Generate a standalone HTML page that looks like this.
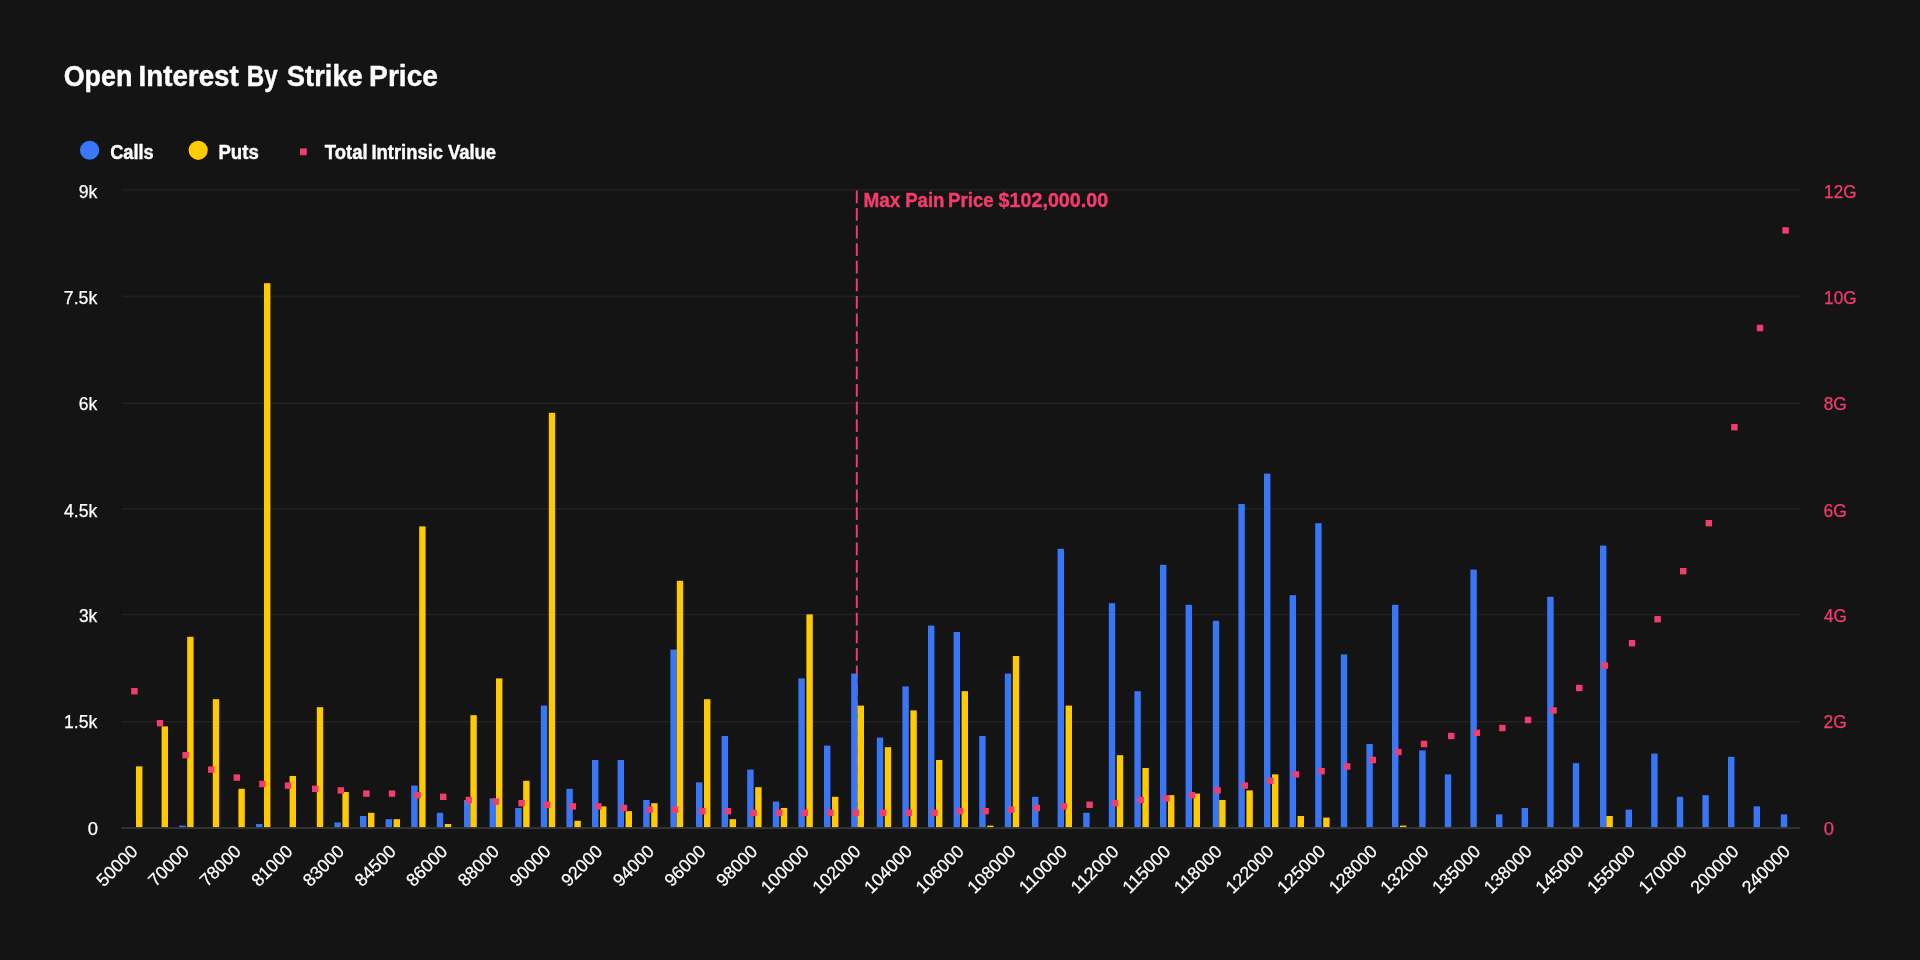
<!DOCTYPE html>
<html><head><meta charset="utf-8"><title>Open Interest By Strike Price</title>
<style>html,body{margin:0;padding:0;background:#141414;width:1920px;height:960px;overflow:hidden}</style></head>
<body>
<svg width="1920" height="960" viewBox="0 0 1920 960" style="display:block;will-change:transform">
<rect width="1920" height="960" fill="#141414"/>
<g transform="scale(1.6)">
<rect x="76" y="118.2" width="1049" height="1" fill="#212121"/>
<rect x="76" y="184.75" width="1049" height="1" fill="#212121"/>
<rect x="76" y="251.5" width="1049" height="1" fill="#212121"/>
<rect x="76" y="317.6" width="1049" height="1" fill="#212121"/>
<rect x="76" y="383.55" width="1049" height="1" fill="#212121"/>
<rect x="76" y="450.6" width="1049" height="1" fill="#212121"/>
<line x1="535.5" y1="119" x2="535.5" y2="517" stroke="#f43c6c" stroke-width="1.2" stroke-dasharray="8 3"/>
<rect x="85" y="479" width="4" height="38" fill="#ffca00"/>
<rect x="101" y="454" width="4" height="63" fill="#ffca00"/>
<rect x="112" y="516" width="4" height="1" fill="#3a77f8"/>
<rect x="117" y="398" width="4" height="119" fill="#ffca00"/>
<rect x="133" y="437" width="4" height="80" fill="#ffca00"/>
<rect x="149" y="493" width="4" height="24" fill="#ffca00"/>
<rect x="160" y="515" width="4" height="2" fill="#3a77f8"/>
<rect x="165" y="177" width="4" height="340" fill="#ffca00"/>
<rect x="181" y="485" width="4" height="32" fill="#ffca00"/>
<rect x="198" y="442" width="4" height="75" fill="#ffca00"/>
<rect x="209" y="514" width="4" height="3" fill="#3a77f8"/>
<rect x="214" y="495" width="4" height="22" fill="#ffca00"/>
<rect x="225" y="510" width="4" height="7" fill="#3a77f8"/>
<rect x="230" y="508" width="4" height="9" fill="#ffca00"/>
<rect x="241" y="512" width="4" height="5" fill="#3a77f8"/>
<rect x="246" y="512" width="4" height="5" fill="#ffca00"/>
<rect x="257" y="491" width="4" height="26" fill="#3a77f8"/>
<rect x="262" y="329" width="4" height="188" fill="#ffca00"/>
<rect x="273" y="508" width="4" height="9" fill="#3a77f8"/>
<rect x="278" y="515" width="4" height="2" fill="#ffca00"/>
<rect x="290" y="500" width="4" height="17" fill="#3a77f8"/>
<rect x="294" y="447" width="4" height="70" fill="#ffca00"/>
<rect x="306" y="499" width="4" height="18" fill="#3a77f8"/>
<rect x="310" y="424" width="4" height="93" fill="#ffca00"/>
<rect x="322" y="505" width="4" height="12" fill="#3a77f8"/>
<rect x="327" y="488" width="4" height="29" fill="#ffca00"/>
<rect x="338" y="441" width="4" height="76" fill="#3a77f8"/>
<rect x="343" y="258" width="4" height="259" fill="#ffca00"/>
<rect x="354" y="493" width="4" height="24" fill="#3a77f8"/>
<rect x="359" y="513" width="4" height="4" fill="#ffca00"/>
<rect x="370" y="475" width="4" height="42" fill="#3a77f8"/>
<rect x="375" y="504" width="4" height="13" fill="#ffca00"/>
<rect x="386" y="475" width="4" height="42" fill="#3a77f8"/>
<rect x="391" y="507" width="4" height="10" fill="#ffca00"/>
<rect x="402" y="500" width="4" height="17" fill="#3a77f8"/>
<rect x="407" y="502" width="4" height="15" fill="#ffca00"/>
<rect x="419" y="406" width="4" height="111" fill="#3a77f8"/>
<rect x="423" y="363" width="4" height="154" fill="#ffca00"/>
<rect x="435" y="489" width="4" height="28" fill="#3a77f8"/>
<rect x="440" y="437" width="4" height="80" fill="#ffca00"/>
<rect x="451" y="460" width="4" height="57" fill="#3a77f8"/>
<rect x="456" y="512" width="4" height="5" fill="#ffca00"/>
<rect x="467" y="481" width="4" height="36" fill="#3a77f8"/>
<rect x="472" y="492" width="4" height="25" fill="#ffca00"/>
<rect x="483" y="501" width="4" height="16" fill="#3a77f8"/>
<rect x="488" y="505" width="4" height="12" fill="#ffca00"/>
<rect x="499" y="424" width="4" height="93" fill="#3a77f8"/>
<rect x="504" y="384" width="4" height="133" fill="#ffca00"/>
<rect x="515" y="466" width="4" height="51" fill="#3a77f8"/>
<rect x="520" y="498" width="4" height="19" fill="#ffca00"/>
<rect x="532" y="421" width="4" height="96" fill="#3a77f8"/>
<rect x="536" y="441" width="4" height="76" fill="#ffca00"/>
<rect x="548" y="461" width="4" height="56" fill="#3a77f8"/>
<rect x="553" y="467" width="4" height="50" fill="#ffca00"/>
<rect x="564" y="429" width="4" height="88" fill="#3a77f8"/>
<rect x="569" y="444" width="4" height="73" fill="#ffca00"/>
<rect x="580" y="391" width="4" height="126" fill="#3a77f8"/>
<rect x="585" y="475" width="4" height="42" fill="#ffca00"/>
<rect x="596" y="395" width="4" height="122" fill="#3a77f8"/>
<rect x="601" y="432" width="4" height="85" fill="#ffca00"/>
<rect x="612" y="460" width="4" height="57" fill="#3a77f8"/>
<rect x="617" y="516" width="4" height="1" fill="#ffca00"/>
<rect x="628" y="421" width="4" height="96" fill="#3a77f8"/>
<rect x="633" y="410" width="4" height="107" fill="#ffca00"/>
<rect x="645" y="498" width="4" height="19" fill="#3a77f8"/>
<rect x="661" y="343" width="4" height="174" fill="#3a77f8"/>
<rect x="666" y="441" width="4" height="76" fill="#ffca00"/>
<rect x="677" y="508" width="4" height="9" fill="#3a77f8"/>
<rect x="693" y="377" width="4" height="140" fill="#3a77f8"/>
<rect x="698" y="472" width="4" height="45" fill="#ffca00"/>
<rect x="709" y="432" width="4" height="85" fill="#3a77f8"/>
<rect x="714" y="480" width="4" height="37" fill="#ffca00"/>
<rect x="725" y="353" width="4" height="164" fill="#3a77f8"/>
<rect x="730" y="497" width="4" height="20" fill="#ffca00"/>
<rect x="741" y="378" width="4" height="139" fill="#3a77f8"/>
<rect x="746" y="496" width="4" height="21" fill="#ffca00"/>
<rect x="758" y="388" width="4" height="129" fill="#3a77f8"/>
<rect x="762" y="500" width="4" height="17" fill="#ffca00"/>
<rect x="774" y="315" width="4" height="202" fill="#3a77f8"/>
<rect x="779" y="494" width="4" height="23" fill="#ffca00"/>
<rect x="790" y="296" width="4" height="221" fill="#3a77f8"/>
<rect x="795" y="484" width="4" height="33" fill="#ffca00"/>
<rect x="806" y="372" width="4" height="145" fill="#3a77f8"/>
<rect x="811" y="510" width="4" height="7" fill="#ffca00"/>
<rect x="822" y="327" width="4" height="190" fill="#3a77f8"/>
<rect x="827" y="511" width="4" height="6" fill="#ffca00"/>
<rect x="838" y="409" width="4" height="108" fill="#3a77f8"/>
<rect x="854" y="465" width="4" height="52" fill="#3a77f8"/>
<rect x="870" y="378" width="4" height="139" fill="#3a77f8"/>
<rect x="875" y="516" width="4" height="1" fill="#ffca00"/>
<rect x="887" y="469" width="4" height="48" fill="#3a77f8"/>
<rect x="903" y="484" width="4" height="33" fill="#3a77f8"/>
<rect x="919" y="356" width="4" height="161" fill="#3a77f8"/>
<rect x="935" y="509" width="4" height="8" fill="#3a77f8"/>
<rect x="951" y="505" width="4" height="12" fill="#3a77f8"/>
<rect x="967" y="373" width="4" height="144" fill="#3a77f8"/>
<rect x="983" y="477" width="4" height="40" fill="#3a77f8"/>
<rect x="1000" y="341" width="4" height="176" fill="#3a77f8"/>
<rect x="1004" y="510" width="4" height="7" fill="#ffca00"/>
<rect x="1016" y="506" width="4" height="11" fill="#3a77f8"/>
<rect x="1032" y="471" width="4" height="46" fill="#3a77f8"/>
<rect x="1048" y="498" width="4" height="19" fill="#3a77f8"/>
<rect x="1064" y="497" width="4" height="20" fill="#3a77f8"/>
<rect x="1080" y="473" width="4" height="44" fill="#3a77f8"/>
<rect x="1096" y="504" width="4" height="13" fill="#3a77f8"/>
<rect x="1113" y="509" width="4" height="8" fill="#3a77f8"/>
<rect x="76" y="517" width="1049" height="1" fill="#3c3c3c"/>
<rect x="82" y="430" width="4" height="4" fill="#f43c6c"/>
<rect x="98" y="450" width="4" height="4" fill="#f43c6c"/>
<rect x="114" y="470" width="4" height="4" fill="#f43c6c"/>
<rect x="130" y="479" width="4" height="4" fill="#f43c6c"/>
<rect x="146" y="484" width="4" height="4" fill="#f43c6c"/>
<rect x="162" y="488" width="4" height="4" fill="#f43c6c"/>
<rect x="178" y="489" width="4" height="4" fill="#f43c6c"/>
<rect x="195" y="491" width="4" height="4" fill="#f43c6c"/>
<rect x="211" y="492" width="4" height="4" fill="#f43c6c"/>
<rect x="227" y="494" width="4" height="4" fill="#f43c6c"/>
<rect x="243" y="494" width="4" height="4" fill="#f43c6c"/>
<rect x="259" y="495" width="4" height="4" fill="#f43c6c"/>
<rect x="275" y="496" width="4" height="4" fill="#f43c6c"/>
<rect x="291" y="498" width="4" height="4" fill="#f43c6c"/>
<rect x="308" y="499" width="4" height="4" fill="#f43c6c"/>
<rect x="324" y="500" width="4" height="4" fill="#f43c6c"/>
<rect x="340" y="501" width="4" height="4" fill="#f43c6c"/>
<rect x="356" y="502" width="4" height="4" fill="#f43c6c"/>
<rect x="372" y="502" width="4" height="4" fill="#f43c6c"/>
<rect x="388" y="503" width="4" height="4" fill="#f43c6c"/>
<rect x="404" y="504" width="4" height="4" fill="#f43c6c"/>
<rect x="420" y="504" width="4" height="4" fill="#f43c6c"/>
<rect x="437" y="505" width="4" height="4" fill="#f43c6c"/>
<rect x="453" y="505" width="4" height="4" fill="#f43c6c"/>
<rect x="469" y="506" width="4" height="4" fill="#f43c6c"/>
<rect x="485" y="506" width="4" height="4" fill="#f43c6c"/>
<rect x="501" y="506" width="4" height="4" fill="#f43c6c"/>
<rect x="517" y="506" width="4" height="4" fill="#f43c6c"/>
<rect x="533" y="506" width="4" height="4" fill="#f43c6c"/>
<rect x="550" y="506" width="4" height="4" fill="#f43c6c"/>
<rect x="566" y="506" width="4" height="4" fill="#f43c6c"/>
<rect x="582" y="506" width="4" height="4" fill="#f43c6c"/>
<rect x="598" y="505" width="4" height="4" fill="#f43c6c"/>
<rect x="614" y="505" width="4" height="4" fill="#f43c6c"/>
<rect x="630" y="504" width="4" height="4" fill="#f43c6c"/>
<rect x="646" y="503" width="4" height="4" fill="#f43c6c"/>
<rect x="663" y="502" width="4" height="4" fill="#f43c6c"/>
<rect x="679" y="501" width="4" height="4" fill="#f43c6c"/>
<rect x="695" y="500" width="4" height="4" fill="#f43c6c"/>
<rect x="711" y="498" width="4" height="4" fill="#f43c6c"/>
<rect x="727" y="497" width="4" height="4" fill="#f43c6c"/>
<rect x="743" y="495" width="4" height="4" fill="#f43c6c"/>
<rect x="759" y="492" width="4" height="4" fill="#f43c6c"/>
<rect x="776" y="489" width="4" height="4" fill="#f43c6c"/>
<rect x="792" y="486" width="4" height="4" fill="#f43c6c"/>
<rect x="808" y="482" width="4" height="4" fill="#f43c6c"/>
<rect x="824" y="480" width="4" height="4" fill="#f43c6c"/>
<rect x="840" y="477" width="4" height="4" fill="#f43c6c"/>
<rect x="856" y="473" width="4" height="4" fill="#f43c6c"/>
<rect x="872" y="468" width="4" height="4" fill="#f43c6c"/>
<rect x="888" y="463" width="4" height="4" fill="#f43c6c"/>
<rect x="905" y="458" width="4" height="4" fill="#f43c6c"/>
<rect x="921" y="456" width="4" height="4" fill="#f43c6c"/>
<rect x="937" y="453" width="4" height="4" fill="#f43c6c"/>
<rect x="953" y="448" width="4" height="4" fill="#f43c6c"/>
<rect x="969" y="442" width="4" height="4" fill="#f43c6c"/>
<rect x="985" y="428" width="4" height="4" fill="#f43c6c"/>
<rect x="1001" y="414" width="4" height="4" fill="#f43c6c"/>
<rect x="1018" y="400" width="4" height="4" fill="#f43c6c"/>
<rect x="1034" y="385" width="4" height="4" fill="#f43c6c"/>
<rect x="1050" y="355" width="4" height="4" fill="#f43c6c"/>
<rect x="1066" y="325" width="4" height="4" fill="#f43c6c"/>
<rect x="1082" y="265" width="4" height="4" fill="#f43c6c"/>
<rect x="1098" y="203" width="4" height="4" fill="#f43c6c"/>
<rect x="1114" y="142" width="4" height="4" fill="#f43c6c"/>
</g>
<text x="63.70" y="85.70" font-family="Liberation Sans, sans-serif" font-size="29.4" font-weight="700" stroke="#ffffff" stroke-width="0.4" fill="#ffffff" textLength="68.77" lengthAdjust="spacingAndGlyphs">Open</text>
<text x="138.44" y="85.70" font-family="Liberation Sans, sans-serif" font-size="29.4" font-weight="700" stroke="#ffffff" stroke-width="0.4" fill="#ffffff" textLength="100.40" lengthAdjust="spacingAndGlyphs">Interest</text>
<text x="246.78" y="85.70" font-family="Liberation Sans, sans-serif" font-size="29.4" font-weight="700" stroke="#ffffff" stroke-width="0.4" fill="#ffffff" textLength="30.95" lengthAdjust="spacingAndGlyphs">By</text>
<text x="286.81" y="85.70" font-family="Liberation Sans, sans-serif" font-size="29.4" font-weight="700" stroke="#ffffff" stroke-width="0.4" fill="#ffffff" textLength="76.02" lengthAdjust="spacingAndGlyphs">Strike</text>
<text x="369.12" y="85.70" font-family="Liberation Sans, sans-serif" font-size="29.4" font-weight="700" stroke="#ffffff" stroke-width="0.4" fill="#ffffff" textLength="68.84" lengthAdjust="spacingAndGlyphs">Price</text>
<circle cx="89.6" cy="150.25" r="9.6" fill="#3a77f8"/>
<text x="110.15" y="158.50" font-family="Liberation Sans, sans-serif" font-size="19.6" font-weight="700" stroke="#ffffff" stroke-width="0.4" fill="#ffffff" textLength="43.60" lengthAdjust="spacingAndGlyphs">Calls</text>
<circle cx="198.2" cy="150.3" r="9.6" fill="#ffca00"/>
<text x="218.46" y="158.50" font-family="Liberation Sans, sans-serif" font-size="19.6" font-weight="700" stroke="#ffffff" stroke-width="0.4" fill="#ffffff" textLength="40.31" lengthAdjust="spacingAndGlyphs">Puts</text>
<rect x="300" y="148.4" width="6.8" height="6.8" fill="#f43c6c"/>
<text x="324.80" y="158.50" font-family="Liberation Sans, sans-serif" font-size="19.6" font-weight="700" stroke="#ffffff" stroke-width="0.4" fill="#ffffff" textLength="42.77" lengthAdjust="spacingAndGlyphs">Total</text>
<text x="371.47" y="158.50" font-family="Liberation Sans, sans-serif" font-size="19.6" font-weight="700" stroke="#ffffff" stroke-width="0.4" fill="#ffffff" textLength="71.57" lengthAdjust="spacingAndGlyphs">Intrinsic</text>
<text x="447.88" y="158.50" font-family="Liberation Sans, sans-serif" font-size="19.6" font-weight="700" stroke="#ffffff" stroke-width="0.4" fill="#ffffff" textLength="48.24" lengthAdjust="spacingAndGlyphs">Value</text>
<text x="78.67" y="198.30" font-family="Liberation Sans, sans-serif" font-size="17.9" stroke="#ffffff" stroke-width="0.25" fill="#ffffff" textLength="18.60" lengthAdjust="spacingAndGlyphs">9k</text>
<text x="63.79" y="304.00" font-family="Liberation Sans, sans-serif" font-size="17.9" stroke="#ffffff" stroke-width="0.25" fill="#ffffff" textLength="33.48" lengthAdjust="spacingAndGlyphs">7.5k</text>
<text x="78.81" y="409.80" font-family="Liberation Sans, sans-serif" font-size="17.9" stroke="#ffffff" stroke-width="0.25" fill="#ffffff" textLength="18.46" lengthAdjust="spacingAndGlyphs">6k</text>
<text x="64.10" y="516.90" font-family="Liberation Sans, sans-serif" font-size="17.9" stroke="#ffffff" stroke-width="0.25" fill="#ffffff" textLength="33.18" lengthAdjust="spacingAndGlyphs">4.5k</text>
<text x="78.94" y="622.40" font-family="Liberation Sans, sans-serif" font-size="17.9" stroke="#ffffff" stroke-width="0.25" fill="#ffffff" textLength="18.34" lengthAdjust="spacingAndGlyphs">3k</text>
<text x="64.06" y="728.00" font-family="Liberation Sans, sans-serif" font-size="17.9" stroke="#ffffff" stroke-width="0.25" fill="#ffffff" textLength="33.21" lengthAdjust="spacingAndGlyphs">1.5k</text>
<text x="87.68" y="834.90" font-family="Liberation Sans, sans-serif" font-size="17.9" stroke="#ffffff" stroke-width="0.25" fill="#ffffff" textLength="10.24" lengthAdjust="spacingAndGlyphs">0</text>
<text x="1824.09" y="198.30" font-family="Liberation Sans, sans-serif" font-size="17.9" stroke="#f43c6c" stroke-width="0.25" fill="#f43c6c" textLength="32.49" lengthAdjust="spacingAndGlyphs">12G</text>
<text x="1824.09" y="304.00" font-family="Liberation Sans, sans-serif" font-size="17.9" stroke="#f43c6c" stroke-width="0.25" fill="#f43c6c" textLength="32.49" lengthAdjust="spacingAndGlyphs">10G</text>
<text x="1823.65" y="409.80" font-family="Liberation Sans, sans-serif" font-size="17.9" stroke="#f43c6c" stroke-width="0.25" fill="#f43c6c" textLength="23.15" lengthAdjust="spacingAndGlyphs">8G</text>
<text x="1823.51" y="516.90" font-family="Liberation Sans, sans-serif" font-size="17.9" stroke="#f43c6c" stroke-width="0.25" fill="#f43c6c" textLength="23.29" lengthAdjust="spacingAndGlyphs">6G</text>
<text x="1824.01" y="622.40" font-family="Liberation Sans, sans-serif" font-size="17.9" stroke="#f43c6c" stroke-width="0.25" fill="#f43c6c" textLength="22.77" lengthAdjust="spacingAndGlyphs">4G</text>
<text x="1823.52" y="728.00" font-family="Liberation Sans, sans-serif" font-size="17.9" stroke="#f43c6c" stroke-width="0.25" fill="#f43c6c" textLength="23.28" lengthAdjust="spacingAndGlyphs">2G</text>
<text x="1823.68" y="834.90" font-family="Liberation Sans, sans-serif" font-size="17.9" stroke="#f43c6c" stroke-width="0.25" fill="#f43c6c" textLength="10.24" lengthAdjust="spacingAndGlyphs">0</text>
<text x="138.71" y="852.60" font-family="Liberation Sans, sans-serif" font-size="17.9" fill="#ffffff" stroke="#ffffff" stroke-width="0.25" text-anchor="end" textLength="49.41" lengthAdjust="spacingAndGlyphs" transform="rotate(-45 138.71 852.60)">50000</text>
<text x="190.35" y="852.60" font-family="Liberation Sans, sans-serif" font-size="17.9" fill="#ffffff" stroke="#ffffff" stroke-width="0.25" text-anchor="end" textLength="49.41" lengthAdjust="spacingAndGlyphs" transform="rotate(-45 190.35 852.60)">70000</text>
<text x="242.00" y="852.60" font-family="Liberation Sans, sans-serif" font-size="17.9" fill="#ffffff" stroke="#ffffff" stroke-width="0.25" text-anchor="end" textLength="49.41" lengthAdjust="spacingAndGlyphs" transform="rotate(-45 242.00 852.60)">78000</text>
<text x="293.64" y="852.60" font-family="Liberation Sans, sans-serif" font-size="17.9" fill="#ffffff" stroke="#ffffff" stroke-width="0.25" text-anchor="end" textLength="49.41" lengthAdjust="spacingAndGlyphs" transform="rotate(-45 293.64 852.60)">81000</text>
<text x="345.28" y="852.60" font-family="Liberation Sans, sans-serif" font-size="17.9" fill="#ffffff" stroke="#ffffff" stroke-width="0.25" text-anchor="end" textLength="49.41" lengthAdjust="spacingAndGlyphs" transform="rotate(-45 345.28 852.60)">83000</text>
<text x="396.93" y="852.60" font-family="Liberation Sans, sans-serif" font-size="17.9" fill="#ffffff" stroke="#ffffff" stroke-width="0.25" text-anchor="end" textLength="49.41" lengthAdjust="spacingAndGlyphs" transform="rotate(-45 396.93 852.60)">84500</text>
<text x="448.57" y="852.60" font-family="Liberation Sans, sans-serif" font-size="17.9" fill="#ffffff" stroke="#ffffff" stroke-width="0.25" text-anchor="end" textLength="49.41" lengthAdjust="spacingAndGlyphs" transform="rotate(-45 448.57 852.60)">86000</text>
<text x="500.21" y="852.60" font-family="Liberation Sans, sans-serif" font-size="17.9" fill="#ffffff" stroke="#ffffff" stroke-width="0.25" text-anchor="end" textLength="49.41" lengthAdjust="spacingAndGlyphs" transform="rotate(-45 500.21 852.60)">88000</text>
<text x="551.86" y="852.60" font-family="Liberation Sans, sans-serif" font-size="17.9" fill="#ffffff" stroke="#ffffff" stroke-width="0.25" text-anchor="end" textLength="49.41" lengthAdjust="spacingAndGlyphs" transform="rotate(-45 551.86 852.60)">90000</text>
<text x="603.50" y="852.60" font-family="Liberation Sans, sans-serif" font-size="17.9" fill="#ffffff" stroke="#ffffff" stroke-width="0.25" text-anchor="end" textLength="49.41" lengthAdjust="spacingAndGlyphs" transform="rotate(-45 603.50 852.60)">92000</text>
<text x="655.14" y="852.60" font-family="Liberation Sans, sans-serif" font-size="17.9" fill="#ffffff" stroke="#ffffff" stroke-width="0.25" text-anchor="end" textLength="49.41" lengthAdjust="spacingAndGlyphs" transform="rotate(-45 655.14 852.60)">94000</text>
<text x="706.78" y="852.60" font-family="Liberation Sans, sans-serif" font-size="17.9" fill="#ffffff" stroke="#ffffff" stroke-width="0.25" text-anchor="end" textLength="49.41" lengthAdjust="spacingAndGlyphs" transform="rotate(-45 706.78 852.60)">96000</text>
<text x="758.43" y="852.60" font-family="Liberation Sans, sans-serif" font-size="17.9" fill="#ffffff" stroke="#ffffff" stroke-width="0.25" text-anchor="end" textLength="49.41" lengthAdjust="spacingAndGlyphs" transform="rotate(-45 758.43 852.60)">98000</text>
<text x="810.07" y="852.60" font-family="Liberation Sans, sans-serif" font-size="17.9" fill="#ffffff" stroke="#ffffff" stroke-width="0.25" text-anchor="end" textLength="59.29" lengthAdjust="spacingAndGlyphs" transform="rotate(-45 810.07 852.60)">100000</text>
<text x="861.71" y="852.60" font-family="Liberation Sans, sans-serif" font-size="17.9" fill="#ffffff" stroke="#ffffff" stroke-width="0.25" text-anchor="end" textLength="59.29" lengthAdjust="spacingAndGlyphs" transform="rotate(-45 861.71 852.60)">102000</text>
<text x="913.36" y="852.60" font-family="Liberation Sans, sans-serif" font-size="17.9" fill="#ffffff" stroke="#ffffff" stroke-width="0.25" text-anchor="end" textLength="59.29" lengthAdjust="spacingAndGlyphs" transform="rotate(-45 913.36 852.60)">104000</text>
<text x="965.00" y="852.60" font-family="Liberation Sans, sans-serif" font-size="17.9" fill="#ffffff" stroke="#ffffff" stroke-width="0.25" text-anchor="end" textLength="59.29" lengthAdjust="spacingAndGlyphs" transform="rotate(-45 965.00 852.60)">106000</text>
<text x="1016.64" y="852.60" font-family="Liberation Sans, sans-serif" font-size="17.9" fill="#ffffff" stroke="#ffffff" stroke-width="0.25" text-anchor="end" textLength="59.29" lengthAdjust="spacingAndGlyphs" transform="rotate(-45 1016.64 852.60)">108000</text>
<text x="1068.29" y="852.60" font-family="Liberation Sans, sans-serif" font-size="17.9" fill="#ffffff" stroke="#ffffff" stroke-width="0.25" text-anchor="end" textLength="59.29" lengthAdjust="spacingAndGlyphs" transform="rotate(-45 1068.29 852.60)">110000</text>
<text x="1119.93" y="852.60" font-family="Liberation Sans, sans-serif" font-size="17.9" fill="#ffffff" stroke="#ffffff" stroke-width="0.25" text-anchor="end" textLength="59.29" lengthAdjust="spacingAndGlyphs" transform="rotate(-45 1119.93 852.60)">112000</text>
<text x="1171.57" y="852.60" font-family="Liberation Sans, sans-serif" font-size="17.9" fill="#ffffff" stroke="#ffffff" stroke-width="0.25" text-anchor="end" textLength="59.29" lengthAdjust="spacingAndGlyphs" transform="rotate(-45 1171.57 852.60)">115000</text>
<text x="1223.22" y="852.60" font-family="Liberation Sans, sans-serif" font-size="17.9" fill="#ffffff" stroke="#ffffff" stroke-width="0.25" text-anchor="end" textLength="59.29" lengthAdjust="spacingAndGlyphs" transform="rotate(-45 1223.22 852.60)">118000</text>
<text x="1274.86" y="852.60" font-family="Liberation Sans, sans-serif" font-size="17.9" fill="#ffffff" stroke="#ffffff" stroke-width="0.25" text-anchor="end" textLength="59.29" lengthAdjust="spacingAndGlyphs" transform="rotate(-45 1274.86 852.60)">122000</text>
<text x="1326.50" y="852.60" font-family="Liberation Sans, sans-serif" font-size="17.9" fill="#ffffff" stroke="#ffffff" stroke-width="0.25" text-anchor="end" textLength="59.29" lengthAdjust="spacingAndGlyphs" transform="rotate(-45 1326.50 852.60)">125000</text>
<text x="1378.14" y="852.60" font-family="Liberation Sans, sans-serif" font-size="17.9" fill="#ffffff" stroke="#ffffff" stroke-width="0.25" text-anchor="end" textLength="59.29" lengthAdjust="spacingAndGlyphs" transform="rotate(-45 1378.14 852.60)">128000</text>
<text x="1429.79" y="852.60" font-family="Liberation Sans, sans-serif" font-size="17.9" fill="#ffffff" stroke="#ffffff" stroke-width="0.25" text-anchor="end" textLength="59.29" lengthAdjust="spacingAndGlyphs" transform="rotate(-45 1429.79 852.60)">132000</text>
<text x="1481.43" y="852.60" font-family="Liberation Sans, sans-serif" font-size="17.9" fill="#ffffff" stroke="#ffffff" stroke-width="0.25" text-anchor="end" textLength="59.29" lengthAdjust="spacingAndGlyphs" transform="rotate(-45 1481.43 852.60)">135000</text>
<text x="1533.07" y="852.60" font-family="Liberation Sans, sans-serif" font-size="17.9" fill="#ffffff" stroke="#ffffff" stroke-width="0.25" text-anchor="end" textLength="59.29" lengthAdjust="spacingAndGlyphs" transform="rotate(-45 1533.07 852.60)">138000</text>
<text x="1584.72" y="852.60" font-family="Liberation Sans, sans-serif" font-size="17.9" fill="#ffffff" stroke="#ffffff" stroke-width="0.25" text-anchor="end" textLength="59.29" lengthAdjust="spacingAndGlyphs" transform="rotate(-45 1584.72 852.60)">145000</text>
<text x="1636.36" y="852.60" font-family="Liberation Sans, sans-serif" font-size="17.9" fill="#ffffff" stroke="#ffffff" stroke-width="0.25" text-anchor="end" textLength="59.29" lengthAdjust="spacingAndGlyphs" transform="rotate(-45 1636.36 852.60)">155000</text>
<text x="1688.00" y="852.60" font-family="Liberation Sans, sans-serif" font-size="17.9" fill="#ffffff" stroke="#ffffff" stroke-width="0.25" text-anchor="end" textLength="59.29" lengthAdjust="spacingAndGlyphs" transform="rotate(-45 1688.00 852.60)">170000</text>
<text x="1739.65" y="852.60" font-family="Liberation Sans, sans-serif" font-size="17.9" fill="#ffffff" stroke="#ffffff" stroke-width="0.25" text-anchor="end" textLength="59.29" lengthAdjust="spacingAndGlyphs" transform="rotate(-45 1739.65 852.60)">200000</text>
<text x="1791.29" y="852.60" font-family="Liberation Sans, sans-serif" font-size="17.9" fill="#ffffff" stroke="#ffffff" stroke-width="0.25" text-anchor="end" textLength="59.29" lengthAdjust="spacingAndGlyphs" transform="rotate(-45 1791.29 852.60)">240000</text>
<text x="863.53" y="206.70" font-family="Liberation Sans, sans-serif" font-size="19.9" font-weight="700" stroke="#f43c6c" stroke-width="0.4" fill="#f43c6c" textLength="36.91" lengthAdjust="spacingAndGlyphs">Max</text>
<text x="905.16" y="206.70" font-family="Liberation Sans, sans-serif" font-size="19.9" font-weight="700" stroke="#f43c6c" stroke-width="0.4" fill="#f43c6c" textLength="39.30" lengthAdjust="spacingAndGlyphs">Pain</text>
<text x="948.05" y="206.70" font-family="Liberation Sans, sans-serif" font-size="19.9" font-weight="700" stroke="#f43c6c" stroke-width="0.4" fill="#f43c6c" textLength="45.58" lengthAdjust="spacingAndGlyphs">Price</text>
<text x="998.54" y="206.70" font-family="Liberation Sans, sans-serif" font-size="19.9" font-weight="700" stroke="#f43c6c" stroke-width="0.4" fill="#f43c6c" textLength="109.67" lengthAdjust="spacingAndGlyphs">$102,000.00</text>
</svg>
</body></html>
